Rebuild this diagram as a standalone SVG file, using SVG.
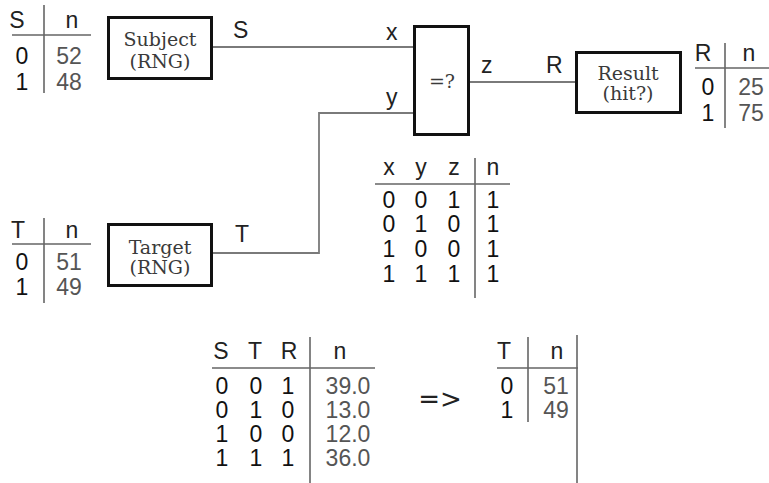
<svg xmlns="http://www.w3.org/2000/svg" width="769" height="483" viewBox="0 0 769 483">
<style>
.box{fill:#fff;stroke:#111;stroke-width:3}
.wire{stroke:#7a7a7a;stroke-width:1.8;fill:none}
.rule{stroke:#666;stroke-width:1.6;fill:none}
.nt{font-family:"DejaVu Serif","Liberation Serif",serif;font-size:19px;fill:#3a3a3a;text-anchor:middle}
.lb{font-family:"Liberation Sans",Arial,sans-serif;font-size:23px;fill:#222}
.hd{font-family:"Liberation Sans",Arial,sans-serif;font-size:23px;fill:#222;text-anchor:middle}
.ix{font-family:"Liberation Sans",Arial,sans-serif;font-size:23px;fill:#111;text-anchor:middle}
.vl{font-family:"Liberation Sans",Arial,sans-serif;font-size:23px;fill:#555;text-anchor:middle}
</style>
<rect width="769" height="483" fill="#fff"/>
<g id="connectors">
<path class="wire" d="M213 47H414"/>
<path class="wire" d="M213 253H319V113H414"/>
<path class="wire" d="M469 82H575"/>
<text class="lb" x="233" y="38">S</text>
<text class="lb" x="235" y="242">T</text>
<text class="lb" x="386" y="40">x</text>
<text class="lb" x="386" y="105">y</text>
<text class="lb" x="481" y="73">z</text>
<text class="lb" x="546" y="73">R</text>
</g>
<g id="subject">
<rect class="box" x="108.5" y="17.5" width="103" height="61"/>
<text class="nt" x="160" y="46">Subject</text>
<text class="nt" x="160" y="68">(RNG)</text>
</g>
<g id="target">
<rect class="box" x="108.5" y="224.5" width="103" height="61"/>
<text class="nt" x="160" y="254">Target</text>
<text class="nt" x="160" y="274">(RNG)</text>
</g>
<g id="compare">
<rect class="box" x="414.5" y="26.5" width="54" height="108"/>
<text class="nt" x="442" y="88" font-size="17">=?</text>
</g>
<g id="result">
<rect class="box" x="576.5" y="52.5" width="104" height="60"/>
<text class="nt" x="628" y="80">Result</text>
<text class="nt" x="628" y="100">(hit?)</text>
</g>
<g id="table-s">
<path class="rule" d="M12 35H91M44 5V93"/>
<text class="hd" x="17" y="28">S</text>
<text class="hd" x="72" y="28">n</text>
<text class="ix" x="22" y="64">0</text>
<text class="vl" x="69" y="64">52</text>
<text class="ix" x="22" y="90">1</text>
<text class="vl" x="69" y="90">48</text>
</g>
<g id="table-t">
<path class="rule" d="M12 244H91M44 218V303"/>
<text class="hd" x="18" y="238">T</text>
<text class="hd" x="72" y="238">n</text>
<text class="ix" x="22" y="270">0</text>
<text class="vl" x="69" y="270">51</text>
<text class="ix" x="22" y="295">1</text>
<text class="vl" x="69" y="295">49</text>
</g>
<g id="table-r">
<path class="rule" d="M695 68H769M725 43V128"/>
<text class="hd" x="703" y="61">R</text>
<text class="hd" x="749" y="61">n</text>
<text class="ix" x="708" y="95">0</text>
<text class="vl" x="751" y="95">25</text>
<text class="ix" x="708" y="121">1</text>
<text class="vl" x="751" y="121">75</text>
</g>
<g id="table-xyz">
<path class="rule" d="M375 184H510M475 158V298"/>
<text class="hd" x="389" y="175">x</text>
<text class="hd" x="421" y="175">y</text>
<text class="hd" x="454" y="175">z</text>
<text class="hd" x="493" y="175">n</text>
<text class="ix" x="389" y="208">0</text><text class="ix" x="421" y="208">0</text><text class="ix" x="454" y="208">1</text><text class="ix" x="493" y="208">1</text>
<text class="ix" x="389" y="232">0</text><text class="ix" x="421" y="232">1</text><text class="ix" x="454" y="232">0</text><text class="ix" x="493" y="232">1</text>
<text class="ix" x="389" y="257">1</text><text class="ix" x="421" y="257">0</text><text class="ix" x="454" y="257">0</text><text class="ix" x="493" y="257">1</text>
<text class="ix" x="389" y="282">1</text><text class="ix" x="421" y="282">1</text><text class="ix" x="454" y="282">1</text><text class="ix" x="493" y="282">1</text>
</g>
<g id="table-str">
<path class="rule" d="M212 368H375M310 337V483"/>
<text class="hd" x="221" y="359">S</text>
<text class="hd" x="255" y="359">T</text>
<text class="hd" x="289" y="359">R</text>
<text class="hd" x="340" y="359">n</text>
<text class="ix" x="222" y="394">0</text><text class="ix" x="256" y="394">0</text><text class="ix" x="288" y="394">1</text><text class="vl" x="348" y="394">39.0</text>
<text class="ix" x="222" y="418">0</text><text class="ix" x="256" y="418">1</text><text class="ix" x="288" y="418">0</text><text class="vl" x="348" y="418">13.0</text>
<text class="ix" x="222" y="442">1</text><text class="ix" x="256" y="442">0</text><text class="ix" x="288" y="442">0</text><text class="vl" x="348" y="442">12.0</text>
<text class="ix" x="222" y="466">1</text><text class="ix" x="256" y="466">1</text><text class="ix" x="288" y="466">1</text><text class="vl" x="348" y="466">36.0</text>
</g>
<g id="arrow-text">
<text x="440" y="408" text-anchor="middle" font-family="DejaVu Sans, sans-serif" font-size="26" fill="#222">=&gt;</text>
</g>
<g id="table-t2">
<path class="rule" d="M497 368H578M528 337V422M577 335V483"/>
<text class="hd" x="504" y="359">T</text>
<text class="hd" x="557" y="359">n</text>
<text class="ix" x="507" y="394">0</text>
<text class="vl" x="556" y="394">51</text>
<text class="ix" x="507" y="418">1</text>
<text class="vl" x="556" y="418">49</text>
</g>
</svg>
